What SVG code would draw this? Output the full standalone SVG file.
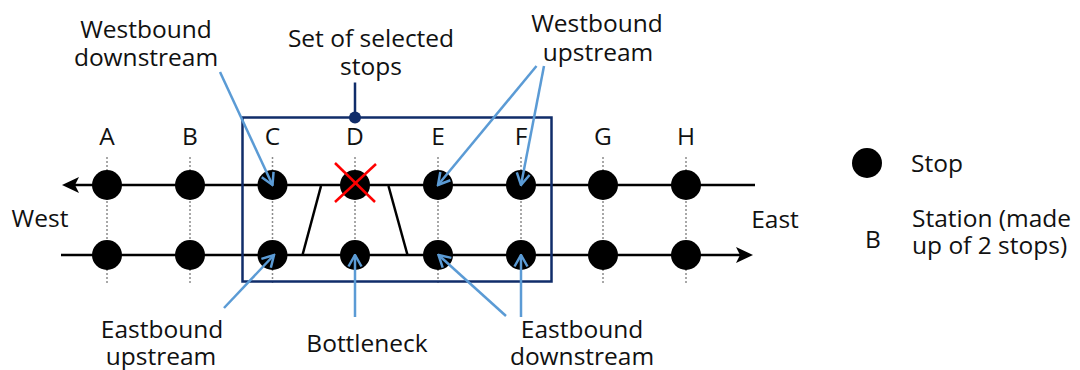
<svg xmlns="http://www.w3.org/2000/svg" width="1080" height="370" viewBox="0 0 1080 370">
  <style>
    text { font-family: "Open Sans", "Noto Sans", "Liberation Sans", sans-serif; font-size: 24.5px; fill: #111; }
    .mid { text-anchor: middle; }
    .track { stroke: #000; stroke-width: 2.5; fill: none; }
    .guide { stroke: #8c8c8c; stroke-width: 1.5; stroke-dasharray: 2 2; fill: none; }
    .stop { fill: #000; }
    .box { stroke: #102d6a; stroke-width: 2.5; fill: none; }
    .pointer { stroke: #5b9bd5; stroke-width: 2.5; fill: none; marker-end: url(#open-arrow); }
    .closure { stroke: #000; stroke-width: 2.5; fill: none; }
    .cross { stroke: #ff0000; stroke-width: 2.5; fill: none; }
  </style>
  <defs>
    <marker id="open-arrow" markerUnits="userSpaceOnUse" viewBox="0 0 14 16" markerWidth="14" markerHeight="16" refX="12.5" refY="8" orient="auto">
      <path d="M1,1.5 L12.5,8 L1,14.5" fill="none" stroke="#5b9bd5" stroke-width="2.5"/>
    </marker>
    <path id="head" d="M0,0 L17,-8 L13,0 L17,8 Z" fill="#000"/>
  </defs>

  <!-- westbound (top) and eastbound (bottom) tracks -->
  <g id="tracks">
    <line class="track" x1="72" y1="185" x2="755" y2="185"/>
    <use href="#head" x="62" y="185"/>
    <line class="track" x1="61" y1="255" x2="743" y2="255"/>
    <use href="#head" transform="translate(753,255) rotate(180)"/>
  </g>

  <!-- stations: guide line, westbound stop, eastbound stop, label -->
  <g id="station-A">
    <line class="guide" x1="107" y1="157" x2="107" y2="283"/>
    <circle class="stop" cx="107" cy="185" r="15"/>
    <circle class="stop" cx="107" cy="255" r="15"/>
    <text class="mid" x="107" y="145">A</text>
  </g>
  <g id="station-B">
    <line class="guide" x1="190" y1="157" x2="190" y2="283"/>
    <circle class="stop" cx="190" cy="185" r="15"/>
    <circle class="stop" cx="190" cy="255" r="15"/>
    <text class="mid" x="190" y="145">B</text>
  </g>
  <g id="station-C">
    <line class="guide" x1="272.5" y1="157" x2="272.5" y2="283"/>
    <circle class="stop" cx="272.5" cy="185" r="15"/>
    <circle class="stop" cx="272.5" cy="255" r="15"/>
    <text class="mid" x="272.5" y="145">C</text>
  </g>
  <g id="station-D">
    <line class="guide" x1="355" y1="157" x2="355" y2="283"/>
    <circle class="stop" cx="355" cy="185" r="15"/>
    <circle class="stop" cx="355" cy="255" r="15"/>
    <text class="mid" x="355" y="145">D</text>
  </g>
  <g id="station-E">
    <line class="guide" x1="438" y1="157" x2="438" y2="283"/>
    <circle class="stop" cx="438" cy="185" r="15"/>
    <circle class="stop" cx="438" cy="255" r="15"/>
    <text class="mid" x="438" y="145">E</text>
  </g>
  <g id="station-F">
    <line class="guide" x1="521" y1="157" x2="521" y2="283"/>
    <circle class="stop" cx="521" cy="185" r="15"/>
    <circle class="stop" cx="521" cy="255" r="15"/>
    <text class="mid" x="521" y="145">F</text>
  </g>
  <g id="station-G">
    <line class="guide" x1="603" y1="157" x2="603" y2="283"/>
    <circle class="stop" cx="603" cy="185" r="15"/>
    <circle class="stop" cx="603" cy="255" r="15"/>
    <text class="mid" x="603" y="145">G</text>
  </g>
  <g id="station-H">
    <line class="guide" x1="686" y1="157" x2="686" y2="283"/>
    <circle class="stop" cx="686" cy="185" r="15"/>
    <circle class="stop" cx="686" cy="255" r="15"/>
    <text class="mid" x="686" y="145">H</text>
  </g>

  <!-- closed stop D and the merge onto the eastbound track -->
  <g id="bottleneck">
    <line class="closure" x1="321" y1="186" x2="302.5" y2="255"/>
    <line class="closure" x1="388.5" y1="186" x2="407.5" y2="255"/>
    <line class="cross" x1="335" y1="163" x2="375" y2="202"/>
    <line class="cross" x1="376" y1="164" x2="335" y2="202"/>
  </g>

  <!-- selected stops -->
  <g id="selection">
    <rect class="box" x="242.5" y="117.5" width="309" height="164"/>
    <line stroke="#102d6a" stroke-width="2.5" x1="355" y1="82.5" x2="355" y2="117"/>
    <circle cx="355" cy="117.5" r="6" fill="#102d6a"/>
    <text class="mid" x="371" y="47">Set of selected<tspan x="371" dy="28">stops</tspan></text>
  </g>

  <!-- annotation pointers -->
  <g id="connectors">
    <line class="pointer" x1="220" y1="72" x2="272.5" y2="185"/>
    <line class="pointer" x1="536.5" y1="66" x2="438" y2="185"/>
    <line class="pointer" x1="544" y1="66" x2="521" y2="185"/>
    <line class="pointer" x1="224" y1="308" x2="274" y2="255"/>
    <line class="pointer" x1="355" y1="317" x2="355" y2="255"/>
    <line class="pointer" x1="506" y1="316" x2="438.5" y2="255"/>
    <line class="pointer" x1="521" y1="317" x2="521" y2="255"/>
  </g>

  <g id="label-westbound-downstream">
    <text class="mid" x="146" y="38">Westbound<tspan x="146" dy="28">downstream</tspan></text>
  </g>
  <g id="label-westbound-upstream">
    <text class="mid" x="597" y="32">Westbound<tspan x="598" dy="29">upstream</tspan></text>
  </g>
  <g id="label-eastbound-upstream">
    <text class="mid" x="162" y="338">Eastbound<tspan x="161" dy="27">upstream</tspan></text>
  </g>
  <g id="label-bottleneck">
    <text class="mid" x="367" y="352">Bottleneck</text>
  </g>
  <g id="label-eastbound-downstream">
    <text class="mid" x="582" y="338">Eastbound<tspan x="582" dy="27">downstream</tspan></text>
  </g>
  <g id="label-west">
    <text class="mid" x="40" y="227">West</text>
  </g>
  <g id="label-east">
    <text class="mid" x="775" y="228">East</text>
  </g>

  <g id="legend">
    <circle class="stop" cx="867" cy="163" r="15"/>
    <text x="911" y="172">Stop</text>
    <text class="mid" x="873" y="248">B</text>
    <text x="912" y="227">Station (made<tspan x="912" dy="27">up of 2 stops)</tspan></text>
  </g>
</svg>
